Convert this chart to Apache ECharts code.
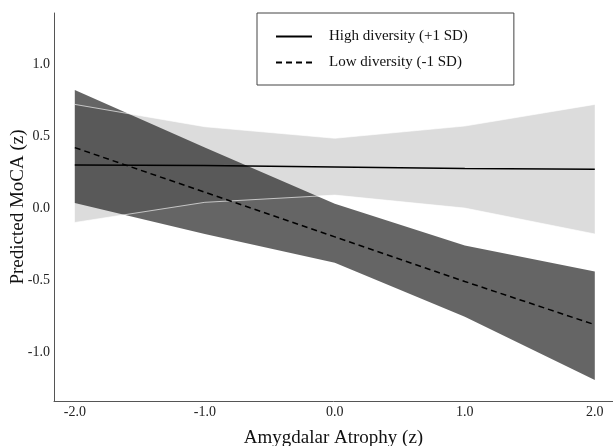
<!DOCTYPE html>
<html>
<head>
<meta charset="utf-8">
<script src="https://cdn.jsdelivr.net/npm/echarts@6/dist/echarts.min.js"></script>
<style>
  html, body { margin: 0; padding: 0; background: #fff; }
  #chart { width: 613px; height: 446px; }
</style>
</head>
<body>
<div id="chart"></div>
<script>
// atrophy values where the model was evaluated
var xVals = [-2, -1, 0, 1, 2];
var xTicks = [-2, -1, 0, 1, 2];
var yTicks = [-1, -0.5, 0, 0.5, 1];

// high diversity (+1 SD)
var highFit = [0.30, 0.295, 0.285, 0.275, 0.27];
var highUpper = [0.72, 0.565, 0.485, 0.57, 0.72];
var highLower = [-0.10, 0.04, 0.09, 0.0, -0.18];

// low diversity (-1 SD)
var lowFit = [0.42, 0.11, -0.20, -0.51, -0.81];
var lowUpper = [0.82, 0.42, 0.03, -0.26, -0.44];
var lowLower = [0.035, -0.18, -0.38, -0.755, -1.195];

var serif = 'Liberation Serif';

function pairs(ys) {
    return xVals.map(function (x, i) { return [x, ys[i]]; });
}

// band between two curves, drawn through the axes
function band(upper, lower, fill, z) {
    return {
        type: 'custom',
        z: z,
        silent: true,
        data: pairs(upper).concat(pairs(lower)),
        renderItem: function (params, api) {
            if (params.dataIndex !== 0) return null;
            var pts = [];
            xVals.forEach(function (x, i) { pts.push(api.coord([x, upper[i]])); });
            for (var i = xVals.length - 1; i >= 0; i--) pts.push(api.coord([xVals[i], lower[i]]));
            return { type: 'polygon', shape: { points: pts }, style: { fill: fill } };
        }
    };
}

function edge(ys) {
    return {
        type: 'line', z: 4, silent: true, symbol: 'none',
        data: pairs(ys),
        lineStyle: { color: '#ffffff', width: 0.8, opacity: 0.8 }
    };
}

var myChart = echarts.init(document.getElementById('chart'));
var option = {
    animation: false,
    backgroundColor: '#ffffff',
    grid: { left: 54, right: 0, top: 13, bottom: 45, outerBoundsMode: 'none', containLabel: false },
    legend: {
        data: ['High diversity (+1 SD)', 'Low diversity (-1 SD)'],
        orient: 'vertical',
        left: 257, top: 13,
        padding: [16, 46, 15, 18],
        itemWidth: 36, itemHeight: 14, itemGap: 11,
        borderColor: '#444', borderWidth: 1,
        itemStyle: { opacity: 0 },
        textStyle: { fontFamily: serif, fontSize: 15, color: '#111', padding: [0, 0, 0, 12] }
    },
    xAxis: {
        type: 'value', min: -2.16, max: 2.14,
        name: 'Amygdalar Atrophy (z)', nameLocation: 'middle', nameGap: 28,
        nameTextStyle: { fontFamily: serif, fontSize: 19, color: '#111' },
        axisLine: { onZero: false, lineStyle: { color: '#555', width: 1 } },
        axisTick: { show: false },
        splitLine: { show: false },
        axisLabel: {
            customValues: xTicks, margin: 4,
            fontFamily: serif, fontSize: 14, color: '#222',
            formatter: function (v) { return v.toFixed(1); }
        }
    },
    yAxis: {
        type: 'value', min: -1.34, max: 1.355,
        name: 'Predicted MoCA (z)', nameLocation: 'middle', nameGap: 26, nameMoveOverlap: false,
        nameTextStyle: { fontFamily: serif, fontSize: 19, color: '#111' },
        axisLine: { show: true, onZero: false, lineStyle: { color: '#555', width: 1 } },
        axisTick: { show: false },
        splitLine: { show: false },
        axisLabel: {
            customValues: yTicks, margin: 4,
            fontFamily: serif, fontSize: 14, color: '#222',
            formatter: function (v) { return v.toFixed(1); }
        }
    },
    series: [
        band(highUpper, highLower, '#dcdcdc', 1),
        band(lowUpper, lowLower, 'rgba(22,22,22,0.66)', 2),
        edge(highUpper),
        edge(highLower),
        {
            name: 'High diversity (+1 SD)', type: 'line', z: 5, symbol: 'none',
            data: pairs(highFit),
            itemStyle: { color: '#000' },
            lineStyle: { color: '#000', width: 1.5 }
        },
        {
            name: 'Low diversity (-1 SD)', type: 'line', z: 5, symbol: 'none',
            data: pairs(lowFit),
            itemStyle: { color: '#000' },
            lineStyle: { color: '#000', width: 1.5, type: [6, 4] }
        }
    ]
};
myChart.setOption(option);
window.addEventListener('resize', function () { myChart.resize(); });
</script>
</body>
</html>
